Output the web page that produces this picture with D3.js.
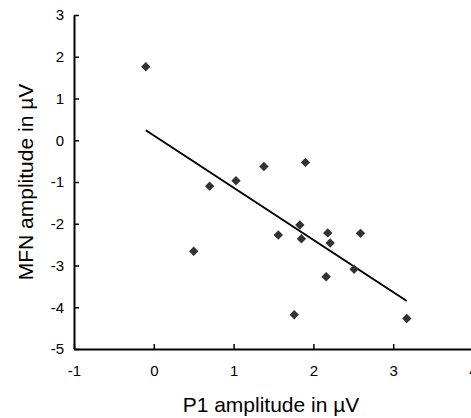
<!DOCTYPE html>
<html>
  <head>
    <title>MFN vs P1 amplitude</title>
    <script src="https://d3js.org/d3.v7.min.js"></script>
    <style>
      body { margin: 0; background: #fff; }
      text { font-family: "Liberation Sans", Arial, sans-serif; fill: #000; }
    </style>
  </head>
  <body>
    <svg id="chart" width="471" height="418"></svg>
  </body>
  <script type="text/javascript">
    // P1 amplitude (x) and MFN amplitude (y), in µV
    var p1 = [-0.1, 0.5, 0.7, 1.03, 1.38, 1.90, 1.56, 1.83, 1.85, 2.18, 2.21, 2.59, 2.16, 2.51, 1.76, 3.17];
    var mfn = [1.76, -2.66, -1.10, -0.97, -0.63, -0.53, -2.27, -2.03, -2.36, -2.22, -2.46, -2.23, -3.27, -3.09, -4.18, -4.27];
    // trend line end points
    var trendX = [-0.1, 3.17];
    var trendY = [0.24, -3.85];
    var xTicks = [-1, 0, 1, 2, 3, 4];
    var yTicks = [3, 2, 1, 0, -1, -2, -3, -4, -5];

    var svg = d3.select("#chart");

    var x = d3.scaleLinear().domain([-1, 4]).range([74, 473]);
    var y = d3.scaleLinear().domain([-5, 3]).range([349, 15]);

    var fmt = function(d){ return String(d); };

    var xAxis = svg.append("g")
        .attr("transform", "translate(0," + y(-5) + ")")
        .call(d3.axisBottom(x).tickValues(xTicks).tickFormat(fmt).tickSizeInner(-5).tickSizeOuter(0).tickPadding(16));
    var yAxis = svg.append("g")
        .attr("transform", "translate(" + x(-1) + ",0)")
        .call(d3.axisLeft(y).tickValues(yTicks).tickFormat(fmt).tickSizeInner(-5).tickSizeOuter(0).tickPadding(10));

    [xAxis, yAxis].forEach(function(a){
        a.select(".domain").attr("stroke", "#000").attr("stroke-width", 2);
        a.selectAll(".tick line").attr("stroke", "#000").attr("stroke-width", 1.5);
        a.selectAll(".tick text").attr("font-size", 15).attr("font-family", "Liberation Sans, Arial, sans-serif").attr("fill", "#000");
    });

    svg.append("line")
        .attr("x1", x(trendX[0])).attr("y1", y(trendY[0]))
        .attr("x2", x(trendX[1])).attr("y2", y(trendY[1]))
        .attr("stroke", "#000").attr("stroke-width", 2);

    var diamond = d3.symbol().type(d3.symbolSquare).size(44);
    svg.selectAll("path.pt")
        .data(p1)
        .enter()
        .append("path")
          .attr("class", "pt")
          .attr("d", diamond)
          .attr("fill", "#333")
          .attr("transform", function(d, i){
            return "translate(" + x(d) + "," + y(mfn[i]) + ") rotate(45)";
          });

    svg.append("text")
        .attr("x", 271).attr("y", 412)
        .attr("text-anchor", "middle")
        .attr("font-size", 21)
        .text("P1 amplitude in µV");

    svg.append("text")
        .attr("transform", "translate(33,182) rotate(-90)")
        .attr("text-anchor", "middle")
        .attr("font-size", 21)
        .text("MFN amplitude in µV");
  </script>
</html>
